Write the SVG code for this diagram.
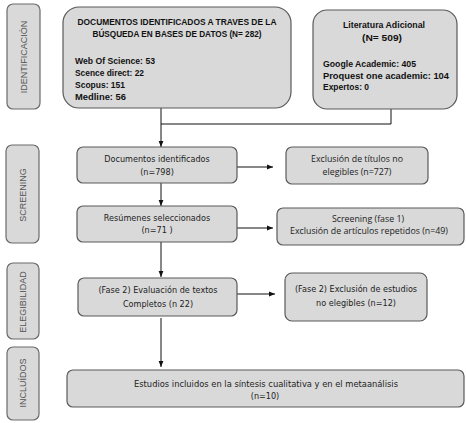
<svg xmlns="http://www.w3.org/2000/svg" width="466" height="423" viewBox="0 0 466 423">
<style>
.box{fill:#d9d9d9;stroke:#5a5a5a;stroke-width:1.2}
.side{fill:#d9d9d9;stroke:#6a6a6a;stroke-width:1.2}
.sl{font-family:"Liberation Sans",Arial,sans-serif;font-size:9px;fill:#555;text-anchor:middle}
.bt{font-family:"Liberation Sans",Arial,sans-serif;font-size:8.6px;font-weight:bold;fill:#111}
.dj{font-family:"DejaVu Sans",sans-serif;font-size:8.1px;fill:#222;text-anchor:middle}
.cb{font-family:"Open Sans","Liberation Sans",sans-serif;font-size:8.8px;fill:#222;text-anchor:middle}
.ln{fill:none;stroke:#111;stroke-width:1}
</style>
<defs>
<marker id="ah" viewBox="0 0 10 10" refX="10" refY="5" markerWidth="6" markerHeight="6" orient="auto" markerUnits="userSpaceOnUse">
<path d="M0,1 L10,5 L0,9 z" fill="#111"/>
</marker>
</defs>
<rect width="466" height="423" fill="#fff"/>
<g id="side-identificacion"><rect class="side" x="7" y="4" width="33" height="105" rx="6"/><text class="sl" transform="translate(26.5,57) rotate(-90)">IDENTIFICACIÓN</text></g>
<g id="side-screening"><rect class="side" x="6" y="145" width="33" height="98" rx="6"/><text class="sl" transform="translate(25.5,195) rotate(-90)">SCREENING</text></g>
<g id="side-elegibilidad"><rect class="side" x="7" y="263" width="32" height="76" rx="6"/><text class="sl" transform="translate(26,302) rotate(-90)">ELEGIBILIDAD</text></g>
<g id="side-incluidos"><rect class="side" x="7" y="347" width="32" height="73" rx="6"/><text class="sl" transform="translate(26,383) rotate(-90)">INCLUÍDOS</text></g>
<g id="connectors">
<path class="ln" d="M161,108 V147" marker-end="url(#ah)"/>
<path class="ln" d="M391,109 V124 H161"/>
<path class="ln" d="M161,183 V206" marker-end="url(#ah)"/>
<path class="ln" d="M161,242 V277" marker-end="url(#ah)"/>
<path class="ln" d="M161,318 V367" marker-end="url(#ah)"/>
<path class="ln" d="M237,167 H273" marker-end="url(#ah)"/>
<path class="ln" d="M237,228 H273" marker-end="url(#ah)"/>
<path class="ln" d="M237,294 H275" marker-end="url(#ah)"/>
</g>
<g id="n-bases"><rect class="box" x="63" y="7" width="228" height="101" rx="16"/>
<text class="bt" x="177" y="25" text-anchor="middle" textLength="199" lengthAdjust="spacingAndGlyphs">DOCUMENTOS  IDENTIFICADOS  A TRAVES  DE LA</text>
<text class="bt" x="177" y="37" text-anchor="middle" textLength="169" lengthAdjust="spacingAndGlyphs">BÚSQUEDA  EN BASES  DE DATOS (N= 282)</text>
<text class="bt" x="75" y="64" textLength="80" lengthAdjust="spacingAndGlyphs">Web Of Science: 53</text>
<text class="bt" x="75" y="76" textLength="69" lengthAdjust="spacingAndGlyphs">Scence direct: 22</text>
<text class="bt" x="75" y="88" textLength="50" lengthAdjust="spacingAndGlyphs">Scopus: 151</text>
<text class="bt" x="75" y="100" textLength="51" lengthAdjust="spacingAndGlyphs">Medline: 56</text>
</g>
<g id="n-literatura"><rect class="box" x="313" y="10" width="144" height="99" rx="14"/>
<text class="bt" x="384" y="28" text-anchor="middle" textLength="82" lengthAdjust="spacingAndGlyphs">Literatura Adicional</text>
<text class="bt" x="382" y="41" text-anchor="middle" textLength="40" lengthAdjust="spacingAndGlyphs">(N= 509)</text>
<text class="bt" x="323" y="67" textLength="93" lengthAdjust="spacingAndGlyphs">Google Academic:  405</text>
<text class="bt" x="323" y="79" textLength="126" lengthAdjust="spacingAndGlyphs">Proquest one academic:  104</text>
<text class="bt" x="323" y="90" textLength="46" lengthAdjust="spacingAndGlyphs">Expertos: 0</text>
</g>
<g id="n-docs"><rect class="box" x="77" y="147" width="160" height="36" rx="6"/>
<text class="dj" x="157" y="162">Documentos identificados</text>
<text class="dj" x="157" y="175">(n=798)</text></g>
<g id="n-excl-titulos"><rect class="box" x="286" y="147" width="142" height="37" rx="6"/>
<text class="cb" x="357" y="162">Exclusión de títulos no</text>
<text class="cb" x="357" y="175">elegibles (n=727)</text></g>
<g id="n-resumenes"><rect class="box" x="77" y="206" width="160" height="36" rx="6"/>
<text class="dj" x="157" y="221">Resúmenes seleccionados</text>
<text class="dj" x="157" y="233">(n=71 )</text></g>
<g id="n-screening"><rect class="box" x="277" y="208" width="187" height="37" rx="6"/>
<text class="cb" x="368" y="222">Screening (fase 1)</text>
<text class="cb" x="369" y="234">Exclusión de artículos repetidos (n=49)</text></g>
<g id="n-fase2"><rect class="box" x="78" y="278" width="159" height="38" rx="6"/>
<text class="dj" x="158" y="293">(Fase 2) Evaluación de textos</text>
<text class="dj" x="158" y="307">Completos (n 22)</text></g>
<g id="n-excl-estudios"><rect class="box" x="285" y="273" width="142" height="48" rx="7"/>
<text class="dj" x="356" y="292">(Fase 2) Exclusión de estudios</text>
<text class="dj" x="356" y="306">no elegibles (n=12)</text></g>
<g id="n-incluidos"><rect class="box" x="67" y="370" width="397" height="37" rx="6"/>
<text class="dj" x="266" y="387" textLength="264" lengthAdjust="spacingAndGlyphs">Estudios incluidos en la síntesis cualitativa y en el metaanálisis</text>
<text class="dj" x="265" y="399">(n=10)</text></g>
</svg>
